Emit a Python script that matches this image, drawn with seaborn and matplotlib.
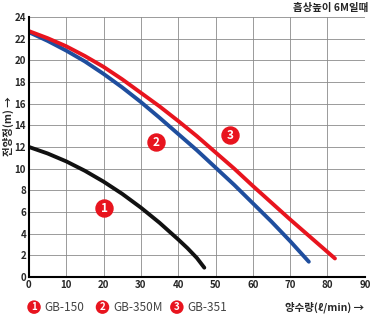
import numpy as np
import pandas as pd
import matplotlib.pyplot as plt
import seaborn as sns

sns.set_style("white")
plt.rcParams['font.family'] = ['Noto Sans CJK KR', 'DejaVu Sans']

# GB-150
x1 = [0, 5, 10, 15, 20, 25, 30, 35, 40, 42.5, 45, 47]
y1 = [12.0, 11.4, 10.67, 9.8, 8.8, 7.67, 6.4, 5.0, 3.46, 2.65, 1.75, 0.85]
# GB-350M
x2 = [0, 5, 10, 15, 20, 25, 30, 35, 40, 45, 50, 55, 60, 65, 70, 75]
y2 = [22.6, 21.8, 20.9, 19.9, 18.75, 17.5, 16.15, 14.7, 13.2, 11.7, 10.1, 8.5, 6.8, 5.1, 3.3, 1.4]
# GB-351
x3 = [0, 5, 10, 15, 20, 25, 30, 35, 40, 45, 50, 55, 60, 65, 70, 75, 80, 82]
y3 = [22.7, 22.05, 21.3, 20.4, 19.4, 18.25, 17.0, 15.75, 14.4, 13.0, 11.5, 10.0, 8.4, 6.85, 5.3, 3.8, 2.3, 1.7]

models = ['GB-150', 'GB-350M', 'GB-351']
colors = ['#111111', '#1f4e9e', '#e8141e']
badge_x = [20.2, 34.1, 54.0]
badge_y = [6.4, 12.5, 13.1]

df = pd.concat([
    pd.DataFrame({'flow': x1, 'head': y1, 'model': models[0]}),
    pd.DataFrame({'flow': x2, 'head': y2, 'model': models[1]}),
    pd.DataFrame({'flow': x3, 'head': y3, 'model': models[2]}),
])

fig = plt.figure(figsize=(3.7, 3.15), dpi=100)
ax = fig.add_axes([0.078, 0.121, 0.908, 0.825])

sns.lineplot(data=df, x='flow', y='head', hue='model', palette=colors,
             linewidth=2.8, legend=False, ax=ax, sort=False)

# red badges with numbers
red = '#e8141e'
for i in range(3):
    ax.scatter(badge_x[i], badge_y[i], s=150, color=red, zorder=5)
    ax.text(badge_x[i], badge_y[i] - 0.05, str(i + 1), color='white', fontsize=8.5,
            fontweight='bold', ha='center', va='center', zorder=6)

ax.set_xlim(0, 90)
ax.set_ylim(0, 24)
ax.set_xticks(range(0, 91, 10))
ax.set_yticks(range(0, 25, 2))
ax.grid(True, color='#8a8a8a', linewidth=0.6)
ax.tick_params(labelsize=7, length=0, pad=2)
for lab in ax.get_xticklabels() + ax.get_yticklabels():
    lab.set_fontweight('bold')
for s in ['top', 'right']:
    ax.spines[s].set_visible(False)
for s in ['left', 'bottom']:
    ax.spines[s].set_color('black')
    ax.spines[s].set_linewidth(1.5)
ax.set_xlabel('')
ax.set_ylabel('')

fig.text(0.995, 0.975, '흡상높이 6M일때', ha='right', va='center', fontsize=7.5, fontweight='bold')
fig.text(0.022, 0.60, '전양정(m) →', rotation=90, ha='center', va='center', fontsize=7.5, fontweight='bold')
fig.text(0.985, 0.025, '양수량(ℓ/min) →', ha='right', va='center', fontsize=7.5, fontweight='bold')

# bottom legend
leg_x = [0.092, 0.277, 0.478]
for i in range(3):
    fig.text(leg_x[i], 0.025, str(i + 1), color='white', fontsize=7, fontweight='bold',
             ha='center', va='center',
             bbox=dict(boxstyle='circle,pad=0.18', fc=red, ec='none'))
    fig.text(leg_x[i] + 0.029, 0.025, models[i], color='#444444', fontsize=8.5,
             ha='left', va='center')

fig.savefig('out.png', dpi=100)
